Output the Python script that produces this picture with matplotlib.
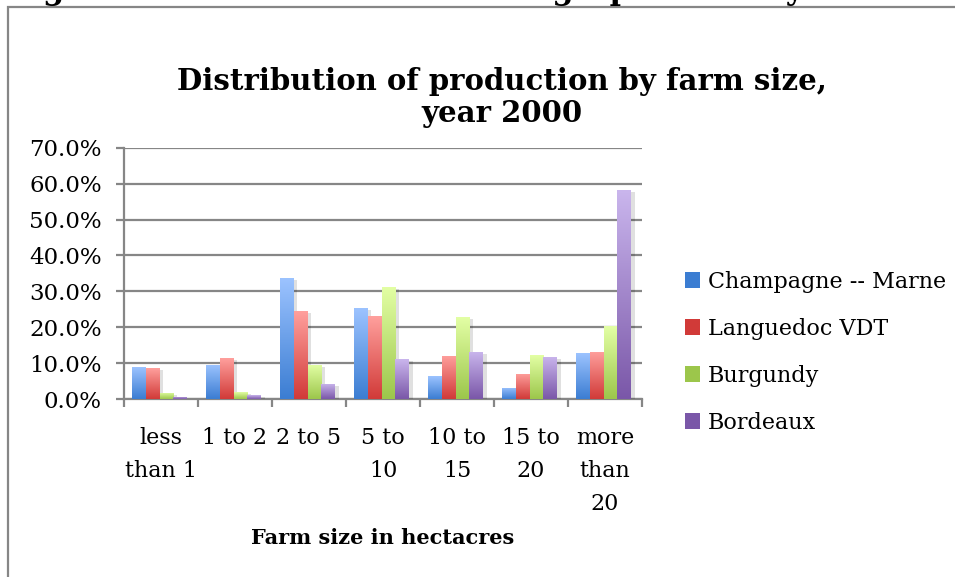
import numpy as np
import matplotlib
matplotlib.use("Agg")
import matplotlib.pyplot as plt
from matplotlib.colors import LinearSegmentedColormap
from matplotlib.patches import Patch, Rectangle
import matplotlib.patheffects as pe

# data (share of production, fraction)
categories = ["less\nthan 1", "1 to 2", "2 to 5", "5 to\n10", "10 to\n15", "15 to\n20", "more\nthan\n20"]
regions = ["Champagne -- Marne", "Languedoc VDT", "Burgundy", "Bordeaux"]
champagne = [0.089, 0.095, 0.337, 0.253, 0.064, 0.031, 0.128]
languedoc = [0.086, 0.114, 0.245, 0.231, 0.120, 0.070, 0.131]
burgundy = [0.017, 0.019, 0.095, 0.312, 0.228, 0.122, 0.203]
bordeaux = [0.006, 0.011, 0.042, 0.111, 0.131, 0.117, 0.582]
series = [champagne, languedoc, burgundy, bordeaux]
y_ticks = [0.0, 0.1, 0.2, 0.3, 0.4, 0.5, 0.6, 0.7]

# (bottom colour, top colour) for the vertical gradient of each series
grad_colors = [("#3b7dd2", "#9cc3ff"),
               ("#d13a38", "#ffa09d"),
               ("#9cc64b", "#e3ffa5"),
               ("#7a57a8", "#cab6ed")]

GRID = "#868686"
SERIF = "DejaVu Serif"

fig = plt.figure(figsize=(9.55, 5.77), dpi=100)
ax = fig.add_axes([124 / 955, 1 - 399 / 577, 518 / 955, (399 - 147.7) / 577])

n = len(series)
width = 0.186
x = np.arange(len(categories))

grad = np.linspace(0, 1, 256).reshape(-1, 1)
for i, (vals, (c0, c1)) in enumerate(zip(series, grad_colors)):
    offs = (i - (n - 1) / 2) * width
    bars = ax.bar(x + offs - 0.02, vals, width, color=c0, linewidth=0, zorder=3)
    cmap = LinearSegmentedColormap.from_list(f"g{i}", [c0, c1])
    for b in bars:
        b.set_path_effects([pe.SimplePatchShadow(offset=(2.5, -1.5), shadow_rgbFace="#000000", alpha=0.12),
                            pe.Normal()])
        x0, w, h = b.get_x(), b.get_width(), b.get_height()
        im = ax.imshow(grad, extent=[x0, x0 + w, 0, h], origin="lower", cmap=cmap,
                       aspect="auto", zorder=4, interpolation="bicubic")
        im.set_clip_path(b)

ax.set_xlim(-0.5, len(categories) - 0.5)
ax.set_ylim(0, 0.7)

# gridlines and axes
ax.set_yticks(y_ticks)
ax.set_yticklabels([f"{v * 100:.1f}%" for v in y_ticks])
ax.yaxis.grid(True, color=GRID, linewidth=1.6, zorder=1)
ax.set_axisbelow(True)
for s in ["top", "right"]:
    ax.spines[s].set_visible(False)
for s in ["left", "bottom"]:
    ax.spines[s].set_color(GRID)
    ax.spines[s].set_linewidth(1.6)
ax.tick_params(axis="y", length=6, width=1.6, color=GRID, pad=10, labelsize=16.5)

# ticks on category boundaries, labels on centres
ax.set_xticks(np.arange(len(categories) + 1) - 0.5)
ax.set_xticklabels([])
ax.set_xticks(x, minor=True)
ax.set_xticklabels(categories, minor=True, linespacing=1.65)
ax.tick_params(axis="x", which="major", length=6, width=1.6, color=GRID)
ax.tick_params(axis="x", which="minor", length=0, pad=20, labelsize=16)
for lab in ax.get_yticklabels() + ax.get_xticklabels(minor=True):
    lab.set_fontfamily(SERIF)

fig.text(502 / 955, 1 - 67 / 577, "Distribution of production by farm size,\nyear 2000",
         ha="center", va="top", fontsize=21, fontweight="bold", family=SERIF, linespacing=1.15)
fig.text(383 / 955, 1 - 538 / 577, "Farm size in hectacres", ha="center", va="center",
         fontsize=15, fontweight="bold", family=SERIF)

handles = [Patch(facecolor=c0, edgecolor="none") for c0, c1 in grad_colors]
fig.legend(handles, regions, loc="upper left", bbox_to_anchor=(676 / 955, 1 - 262 / 577),
           frameon=False, prop={"family": SERIF, "size": 16}, handlelength=0.7,
           handleheight=0.7, handletextpad=0.35, labelspacing=1.12, borderaxespad=0)

# chart frame and the cut-off document heading above it
fig.add_artist(Rectangle((8 / 955, -0.1), 1.2, 1.1 - 7 / 577, transform=fig.transFigure,
                         fill=False, edgecolor=GRID, linewidth=1.6))
fig.text(10 / 955, 1 + 1 / 577, "Figure 3: Structure of the wine grape industry",
         ha="left", va="baseline", fontsize=22, fontweight="bold", family=SERIF)

fig.savefig("out.png", dpi=100)
